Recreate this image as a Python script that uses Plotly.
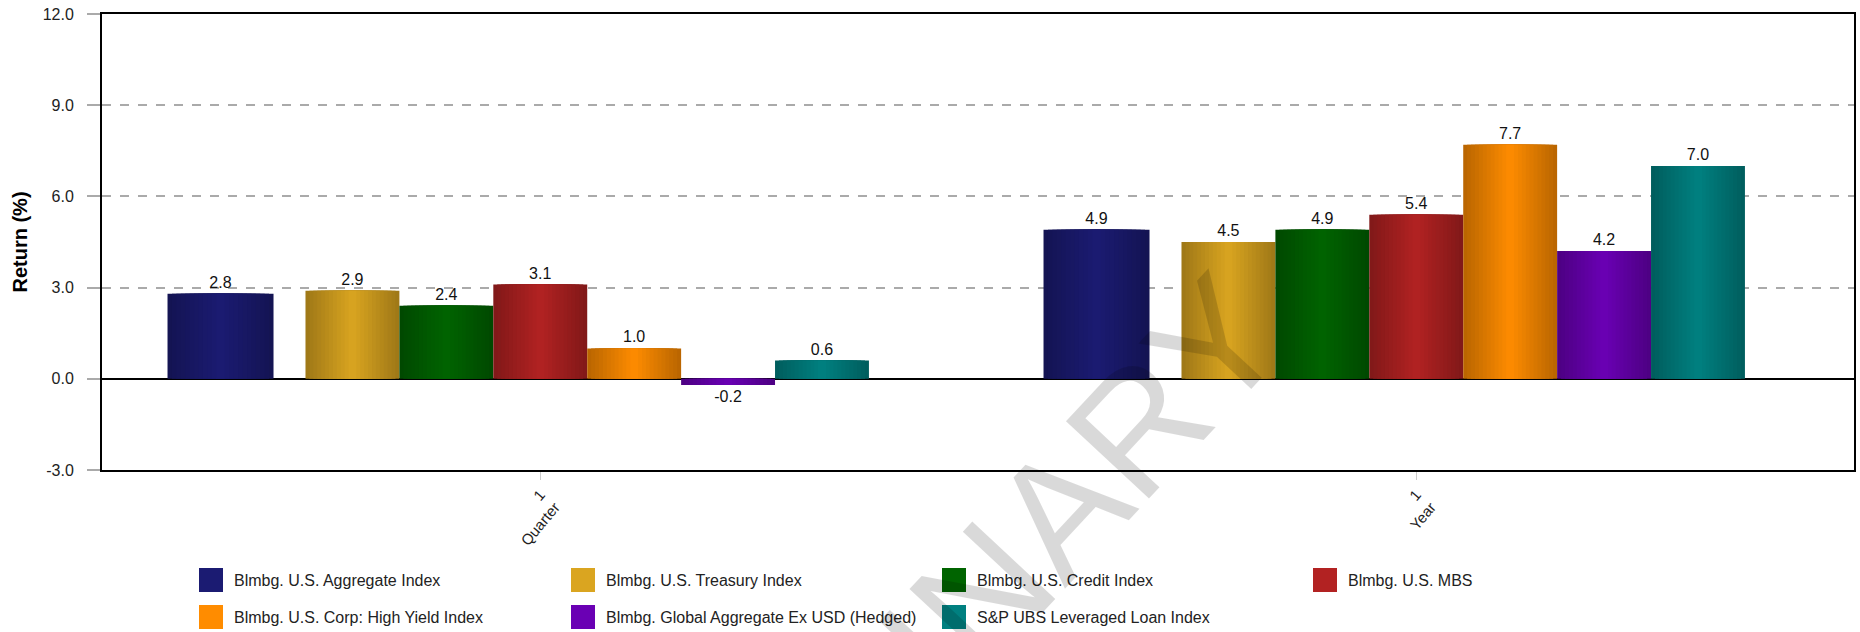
import plotly.graph_objects as go

# ---------------- data ----------------
categories = ["1<br>Quarter", "1<br>Year"]
series_names = [
    "Blmbg. U.S. Aggregate Index",
    "Blmbg. U.S. Treasury Index",
    "Blmbg. U.S. Credit Index",
    "Blmbg. U.S. MBS",
    "Blmbg. U.S. Corp: High Yield Index",
    "Blmbg. Global Aggregate Ex USD (Hedged)",
    "S&P UBS Leveraged Loan Index",
]
agg_vals = [2.8, 4.9]
treasury_vals = [2.9, 4.5]
credit_vals = [2.4, 4.9]
mbs_vals = [3.1, 5.4]
high_yield_vals = [1.0, 7.7]
global_agg_vals = [-0.2, 4.2]
lev_loan_vals = [0.6, 7.0]
y_ticks = [-3.0, 0.0, 3.0, 6.0, 9.0, 12.0]

series_values = [agg_vals, treasury_vals, credit_vals, mbs_vals,
                 high_yield_vals, global_agg_vals, lev_loan_vals]

# ---------------- styles ----------------
center_colors = ["#1B1B72", "#DAA520", "#006400", "#B22222",
                 "#FF8C00", "#6A00B4", "#008080"]
edge_factor = 0.72

# bar geometry in category units
first_w = 0.121
first_off = -0.4252
other_w = 0.1072
other_base = -0.2677
bar_widths = [first_w] + [other_w] * 6
bar_offsets = [first_off] + [other_base + k * other_w for k in range(6)]

FONT = "Arial, Liberation Sans, sans-serif"
W, H = 1860, 632
ML, MR, MT, MB = 102, 6, 14, 162
PW = W - ML - MR
PH = H - MT - MB


def hex_to_rgb(h):
    h = h.lstrip("#")
    return tuple(int(h[i:i + 2], 16) for i in (0, 2, 4))


def mix(c, t):
    # t=0 -> center color, t=1 -> edge (darker) color
    r, g, b = hex_to_rgb(c)
    f = 1 - (1 - edge_factor) * t
    return "rgb(%d,%d,%d)" % (round(r * f), round(g * f), round(b * f))


fig = go.Figure()
N_LAYERS = 12
for i, (name, vals) in enumerate(zip(series_names, series_values)):
    w = bar_widths[i]
    off = bar_offsets[i]
    for k in range(N_LAYERS):
        frac = 1 - k / N_LAYERS
        t = 1 - (k + 0.5) / N_LAYERS
        fig.add_trace(go.Bar(
            x=categories,
            y=vals,
            name=name,
            width=[w * frac] * len(vals),
            offset=[off + w * (1 - frac) / 2] * len(vals),
            marker=dict(color=mix(center_colors[i], t), line=dict(width=0)),
            text=[f"{v:.1f}" for v in vals] if k == 0 else None,
            textposition="outside" if k == 0 else "none",
            textfont=dict(family=FONT, size=16, color="#111111"),
            cliponaxis=False,
            showlegend=False,
            hoverinfo="skip" if k > 0 else "x+y+name",
        ))

# ---------------- manual legend ----------------
def px_to_paper_x(px):
    return (px - ML) / PW


def py_to_paper_y(py):
    return (H - MB - py) / PH


shapes = []
annotations = []
col_x = [199, 571, 942, 1313]
row_y = [580, 617]
sw = 24
for i, name in enumerate(series_names):
    cx = col_x[i % 4]
    cy = row_y[i // 4]
    shapes.append(dict(
        type="rect", xref="paper", yref="paper",
        x0=px_to_paper_x(cx), x1=px_to_paper_x(cx + sw),
        y0=py_to_paper_y(cy + sw / 2), y1=py_to_paper_y(cy - sw / 2),
        fillcolor=center_colors[i], line=dict(width=0),
    ))
    annotations.append(dict(
        xref="paper", yref="paper",
        x=px_to_paper_x(cx + sw + 9), y=py_to_paper_y(cy),
        xanchor="left", yanchor="middle", showarrow=False,
        text=name.replace("&", "&amp;"),
        font=dict(family=FONT, size=16, color="#222222"),
    ))

# watermark
annotations.append(dict(
    xref="paper", yref="paper",
    x=px_to_paper_x(872), y=py_to_paper_y(712),
    xanchor="center", yanchor="middle", showarrow=False,
    text="PRELIMINARY", textangle=-47,
    font=dict(family=FONT, size=165, color="rgba(0,0,0,0.15)"),
))

fig.update_layout(
    width=W, height=H,
    margin=dict(l=ML, r=MR, t=MT, b=MB, pad=0),
    barmode="overlay",
    plot_bgcolor="white",
    paper_bgcolor="white",
    showlegend=False,
    font=dict(family=FONT, size=16, color="#222222"),
    shapes=shapes,
    annotations=annotations,
    xaxis=dict(
        type="category",
        range=[-0.5, 1.5],
        automargin=False,
        showline=True, linecolor="black", linewidth=2, mirror=True,
        showgrid=False,
        ticks="outside", ticklen=8, tickcolor="#cccccc", tickwidth=1,
        tickangle=-50,
        tickfont=dict(family=FONT, size=15, color="#222222"),
    ),
    yaxis=dict(
        range=[-3, 12],
        automargin=False,
        tickvals=y_ticks,
        ticktext=[f"{v:.1f}" for v in y_ticks],
        showline=True, linecolor="black", linewidth=2, mirror=True,
        showgrid=True, gridcolor="#aaaaaa", gridwidth=1.5, griddash="dash",
        zeroline=True, zerolinecolor="black", zerolinewidth=2,
        ticks="outside", ticklen=13, tickcolor="#aaaaaa", tickwidth=1.5,
        ticklabelstandoff=10,
        tickfont=dict(family=FONT, size=16, color="#222222"),
        title=dict(text="<b>Return (%)</b>", standoff=10,
                   font=dict(family=FONT, size=20, color="black")),
    ),
)

fig.write_html(
    "out.html",
    config={"displayModeBar": False},
    post_script="document.body.style.margin='0px';"
                "document.body.style.overflow='hidden';",
)
